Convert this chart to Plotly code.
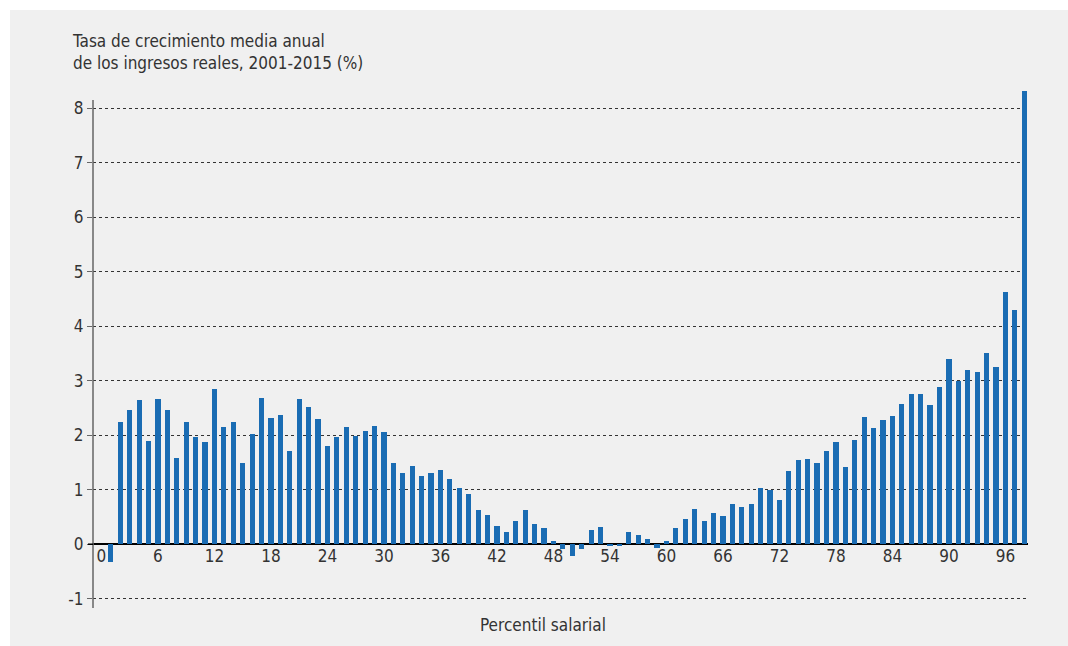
import plotly.graph_objects as go

percentiles = list(range(1, 99))
growth = [
    -0.32, 2.24, 2.46, 2.64, 1.90, 2.66, 2.46, 1.58, 2.24, 1.97,
    1.88, 2.84, 2.15, 2.24, 1.49, 2.02, 2.68, 2.32, 2.37, 1.71,
    2.66, 2.51, 2.30, 1.80, 1.96, 2.15, 1.99, 2.07, 2.17, 2.06,
    1.49, 1.31, 1.44, 1.25, 1.31, 1.36, 1.19, 1.03, 0.92, 0.62,
    0.54, 0.34, 0.23, 0.43, 0.62, 0.37, 0.29, 0.06, -0.09, -0.21,
    -0.09, 0.26, 0.31, -0.04, -0.04, 0.23, 0.17, 0.09, -0.07, 0.06,
    0.29, 0.46, 0.64, 0.43, 0.58, 0.52, 0.73, 0.69, 0.73, 1.03,
    1.00, 0.81, 1.34, 1.55, 1.57, 1.49, 1.71, 1.88, 1.42, 1.92,
    2.34, 2.13, 2.28, 2.36, 2.57, 2.76, 2.76, 2.56, 2.89, 3.40,
    3.00, 3.20, 3.15, 3.50, 3.25, 4.62, 4.29, 8.31,
]
x_ticks = list(range(0, 97, 6))
y_ticks = list(range(-1, 9))
y_tick_text = [str(v) for v in y_ticks]  # plain hyphen for -1

title_text = "Tasa de crecimiento media anual<br>de los ingresos reales, 2001-2015 (%)"
x_label = "Percentil salarial"

FONT = "Liberation Sans Narrow, DejaVu Sans Condensed, Roboto, sans-serif"
TXT = "#333333"
Y_MIN, Y_MAX = -1.17, 8.35
X_MIN, X_MAX = -0.9, 98.4

W, H = 1068, 646
ML, MR, MT, MB = 93, 40, 89, 38
PW, PH = W - ML - MR, H - MT - MB


def px_x(px):
    return (px - ML) / PW


def px_y(py):
    return (H - MB - py) / PH


fig = go.Figure()
fig.add_trace(go.Bar(
    x=percentiles, y=growth, width=0.55,
    marker=dict(color="#1a6cb3", line=dict(width=0)),
    hoverinfo="x+y",
))

fig.update_layout(
    width=W, height=H,
    paper_bgcolor="#f0f0f0", plot_bgcolor="#f0f0f0",
    margin=dict(l=ML, r=MR, t=MT, b=MB),
    font=dict(family=FONT, size=17, color=TXT),
    showlegend=False,
    bargap=0,
    xaxis=dict(
        range=[X_MIN, X_MAX], tickmode="array", tickvals=x_ticks,
        ticktext=[str(v) for v in x_ticks],
        showgrid=False, zeroline=False,
        anchor="free", position=(0 - Y_MIN) / (Y_MAX - Y_MIN),
        showline=False, ticks="", ticklabelstandoff=0,
        tickfont=dict(family=FONT, size=17, color=TXT),
    ),
    yaxis=dict(
        range=[Y_MIN, Y_MAX], tickmode="array", tickvals=y_ticks,
        ticktext=y_tick_text,
        showgrid=True, gridcolor="#333333", gridwidth=1, griddash="dot",
        zeroline=True, zerolinecolor="#000000", zerolinewidth=1.5,
        showline=False, ticks="outside", ticklen=5, tickcolor="#666666",
        tickfont=dict(family=FONT, size=17, color=TXT),
    ),
    shapes=[
        dict(type="line", xref="paper", yref="y", x0=0, x1=0, y0=Y_MIN, y1=8.15,
             line=dict(color="#666666", width=1.5)),
        dict(type="line", xref="paper", yref="y", x0=px_x(88), x1=0, y0=0, y1=0,
             line=dict(color="#000000", width=1.5)),
        # white frame strips at top and left of the page
        dict(type="rect", xref="paper", yref="paper", x0=px_x(-5), x1=px_x(W + 5),
             y0=px_y(10), y1=px_y(-5),
             fillcolor="#ffffff", line=dict(width=0), layer="below"),
        dict(type="rect", xref="paper", yref="paper", x0=px_x(-5), x1=px_x(10),
             y0=px_y(H + 5), y1=px_y(-5),
             fillcolor="#ffffff", line=dict(width=0), layer="below"),
    ],
    annotations=[
        dict(text=title_text, xref="paper", yref="paper", x=px_x(70), y=px_y(29),
             xanchor="left", yanchor="top", align="left", showarrow=False,
             font=dict(family=FONT, size=17, color=TXT)),
        dict(text=x_label, xref="paper", yref="paper", x=px_x(543), y=px_y(625),
             xanchor="center", yanchor="middle", showarrow=False,
             font=dict(family=FONT, size=17, color=TXT)),
    ],
)

fig.write_html(
    "out.html",
    config={"displayModeBar": False},
    post_script="document.body.style.margin='0';document.body.style.padding='0';"
                "document.body.style.overflow='hidden';",
)
